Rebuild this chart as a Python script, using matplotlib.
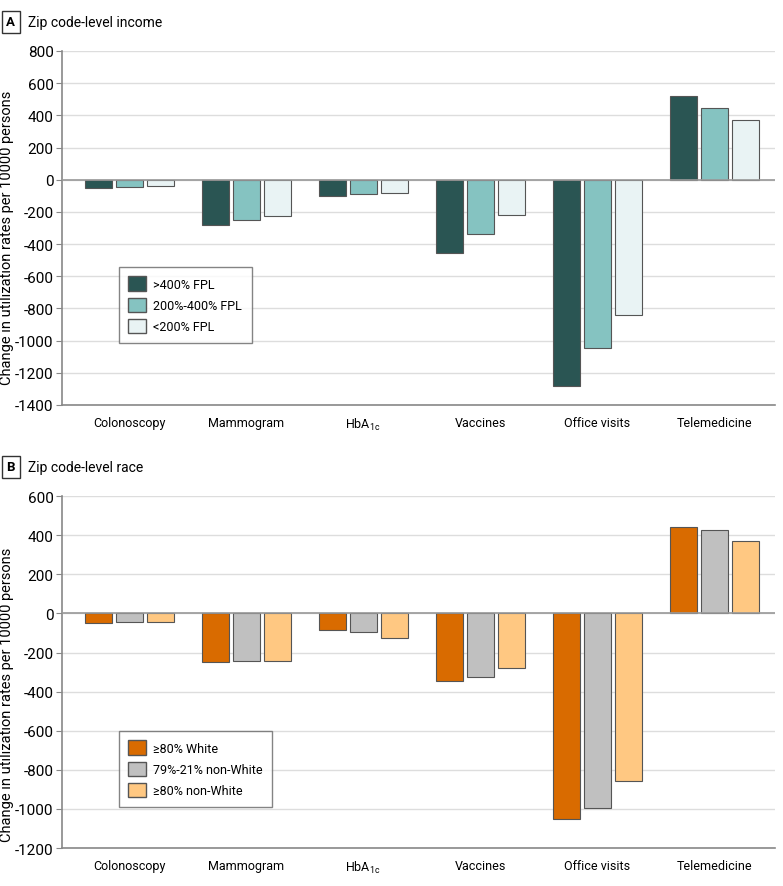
import matplotlib
matplotlib.use("Agg")
import matplotlib.pyplot as plt
import numpy as np
from matplotlib.patches import Patch

categories = ["Colonoscopy", "Mammogram", r"HbA$_\mathregular{1c}$", "Vaccines", "Office visits", "Telemedicine"]

# Panel A - zip code-level income
income_labels = [">400% FPL", "200%-400% FPL", "<200% FPL"]
income_high = [-54, -283, -102, -458, -1283, 519]
income_mid = [-46, -252, -90, -340, -1046, 444]
income_low = [-42, -227, -83, -219, -838, 369]
income_colors = ["#2a5553", "#85c3c1", "#e9f3f4"]

# Panel B - zip code-level race
race_labels = ["≥80% White", "79%-21% non-White", "≥80% non-White"]
race_white = [-51, -250, -83, -348, -1053, 442]
race_mixed = [-46, -245, -95, -324, -997, 427]
race_nonwhite = [-43, -246, -127, -277, -855, 371]
race_colors = ["#d96b00", "#c0c0c0", "#ffc882"]

plt.rcParams["font.family"] = ["Roboto", "DejaVu Sans"]
plt.rcParams["mathtext.default"] = "regular"
plt.rcParams["axes.unicode_minus"] = False

fig = plt.figure(figsize=(7.83, 8.87), dpi=100)


def draw_panel(ax, series, colors, labels, ylim, step, legend_pos, ylab_y):
    x = np.arange(len(categories))
    width = 0.23
    offs = [-0.265, 0, 0.265]
    for vals, col, off in zip(series, colors, offs):
        ax.bar(x + off, vals, width, color=col, edgecolor="#555555", linewidth=0.8, zorder=3)
    ax.set_xlim(-0.573, 5.52)
    ax.set_ylim(*ylim)
    ax.set_yticks(np.arange(ylim[0], ylim[1] + 1, step))
    ax.set_xticks(x)
    ax.set_xticklabels(categories, fontsize=9)
    ax.tick_params(axis="x", length=0, pad=8)
    ax.tick_params(axis="y", length=4, color="#888888", labelsize=11, pad=2)
    ax.grid(axis="y", color="#dddddd", linewidth=1, zorder=0)
    ax.axhline(0, color="#999999", linewidth=1.2, zorder=4)
    for s in ["top", "right"]:
        ax.spines[s].set_visible(False)
    ax.spines["left"].set_color("#888888")
    ax.spines["bottom"].set_color("#888888")
    ax.spines["left"].set_linewidth(1.2)
    ax.spines["bottom"].set_linewidth(1.2)
    ax.set_ylabel("Change in utilization rates per 10000 persons", fontsize=10.5)
    ax.yaxis.set_label_coords(-0.067, ylab_y)
    handles = [Patch(facecolor=c, edgecolor="#555555", label=l) for c, l in zip(colors, labels)]
    leg = ax.legend(handles=handles, loc="upper left", bbox_to_anchor=legend_pos, fontsize=9,
                    frameon=True, fancybox=False, edgecolor="#666666", handlelength=1.4,
                    handleheight=1.4, labelspacing=0.55, borderpad=0.75, handletextpad=0.6,
                    borderaxespad=0)
    leg.get_frame().set_linewidth(1)


axA = fig.add_axes([0.0792, 0.5423, 0.9106, 0.3991])
draw_panel(axA, [income_high, income_mid, income_low], income_colors, income_labels,
           (-1400, 800), 200, (0.080, 0.390), 0.475)

axB = fig.add_axes([0.0792, 0.0428, 0.9106, 0.3968])
draw_panel(axB, [race_white, race_mixed, race_nonwhite], race_colors, race_labels,
           (-1200, 600), 200, (0.080, 0.333), 0.4375)

# panel headings
for letter, title, ypos in [("A", "Zip code-level income", 0.9745), ("B", "Zip code-level race", 0.4725)]:
    fig.text(0.0138, ypos, letter, fontsize=9.5, fontweight="bold", va="center", ha="center",
             bbox=dict(boxstyle="square,pad=0.35", facecolor="white", edgecolor="#333333", linewidth=1))
    fig.text(0.036, ypos, title, fontsize=10, va="center", ha="left")

fig.savefig("out.png", dpi=100)
